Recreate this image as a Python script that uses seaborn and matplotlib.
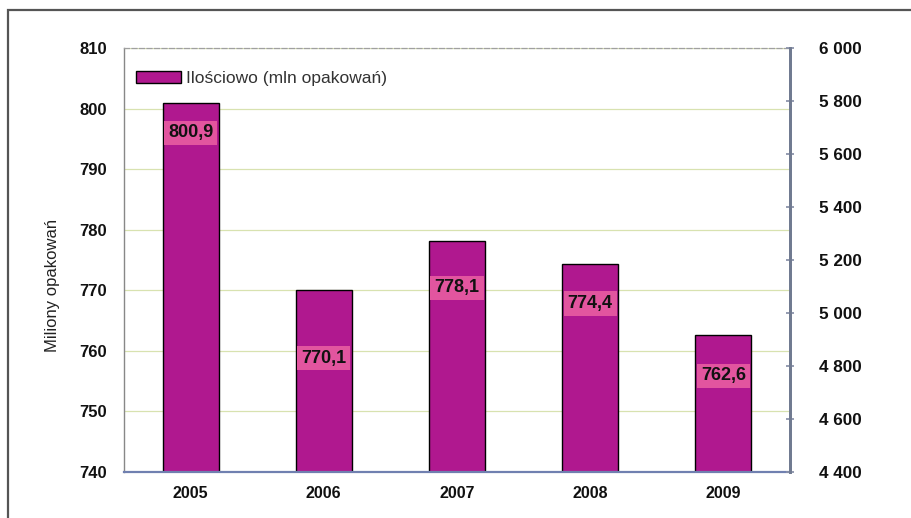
import matplotlib
matplotlib.use("Agg")
import matplotlib.pyplot as plt
import seaborn as sns
import pandas as pd
from matplotlib.patches import Rectangle, Patch

years = ["2005", "2006", "2007", "2008", "2009"]
values = [800.9, 770.1, 778.1, 774.4, 762.6]
value_labels = ["800,9", "770,1", "778,1", "774,4", "762,6"]
label_drop = [4.9, 11.3, 7.7, 6.6, 6.7]  # how far below bar top the label sits
left_ticks = [740, 750, 760, 770, 780, 790, 800, 810]
right_ticks = [4400, 4600, 4800, 5000, 5200, 5400, 5600, 5800, 6000]
right_tick_labels = ["4 400", "4 600", "4 800", "5 000", "5 200", "5 400", "5 600", "5 800", "6 000"]
legend_label = "Ilościowo (mln opakowań)"
ylabel = "Miliony opakowań"

sns.set_theme(style="white")
plt.rcParams['font.family'] = ['Liberation Sans', 'DejaVu Sans']

df = pd.DataFrame({"year": years, "value": values})

fig = plt.figure(figsize=(9.12, 5.18), dpi=100)
fig.patch.set_facecolor("white")
# outer frame
fig.add_artist(Rectangle((8 / 912, -0.05), 1.0, 1 - 10 / 518 + 0.05, transform=fig.transFigure,
                         fill=False, edgecolor="#555555", linewidth=1.6))

ax = fig.add_axes([124 / 912, 46 / 518, 666 / 912, 424 / 518])
bar_color = "#b0188f"
band_color = "#e2559f"
bar_w = 0.42
sns.barplot(data=df, x="year", y="value", ax=ax, color=bar_color, width=bar_w,
            edgecolor="black", linewidth=1.0, saturation=1)
ax.set_ylim(740, 810)
ax.set_xlim(-0.5, 4.5)

band_h = 4.0
for i, (v, lab, d) in enumerate(zip(values, value_labels, label_drop)):
    ax.bar(i, band_h, bottom=v - d - band_h / 2, width=bar_w - 0.02, color=band_color,
           edgecolor="none", zorder=3)
    ax.text(i, v - d, lab, ha="center", va="center", fontsize=13, fontweight="bold",
            color="#111111", zorder=4)

ax.set_yticks(left_ticks)
ax.set_yticklabels([str(t) for t in left_ticks])
ax.set_xticks(range(len(years)))
ax.set_xticklabels(years)
ax.tick_params(axis="x", which="major", length=0, pad=10, labelsize=11.5, labelcolor="#111111")
ax.set_xticks([0.5, 1.5, 2.5, 3.5], minor=True)
ax.tick_params(axis="x", which="minor", length=6, direction="inout", color="#8890a8", width=1)
ax.tick_params(axis="y", which="major", length=0, pad=12, labelsize=12, labelcolor="#111111")
for t in ax.get_xticklabels() + ax.get_yticklabels():
    t.set_fontweight("bold")
ax.set_xlabel("")
ax.set_ylabel(ylabel, fontsize=12, color="#222222")
ax.yaxis.set_label_coords(-0.096, 0.44)

ax.yaxis.grid(True, color="#d8e2b0", linewidth=0.9, linestyle="-")
ax.set_axisbelow(True)
ax.spines["left"].set_color("#888888")
ax.spines["left"].set_linewidth(1.0)
ax.spines["top"].set_color("#a0a0a0")
ax.spines["top"].set_linestyle((0, (4, 2)))
ax.spines["top"].set_linewidth(0.9)
ax.spines["bottom"].set_color("#7080b0")
ax.spines["bottom"].set_linewidth(1.6)
ax.spines["right"].set_color("#707a90")
ax.spines["right"].set_linewidth(2.0)

ax2 = ax.twinx()
ax2.set_ylim(4400, 6000)
ax2.set_yticks(right_ticks)
ax2.set_yticklabels(right_tick_labels)
ax2.tick_params(axis="y", length=6, direction="inout", color="#8890a8", pad=18,
                labelsize=12.3, labelcolor="#111111")
for t in ax2.get_yticklabels():
    t.set_fontweight("bold")
ax2.grid(False)
for s in ["left", "top", "bottom"]:
    ax2.spines[s].set_visible(False)
ax2.spines["right"].set_color("#707a90")
ax2.spines["right"].set_linewidth(2.0)

handle = Patch(facecolor=bar_color, edgecolor="black", linewidth=1.0)
leg = ax.legend([handle], [legend_label], loc="upper left", bbox_to_anchor=(0.0, 0.975),
                frameon=False, fontsize=12.5, handlelength=2.6, handleheight=0.7,
                handletextpad=0.3, borderaxespad=0.3)
for t in leg.get_texts():
    t.set_color("#333333")

fig.savefig("out.png", dpi=100)
